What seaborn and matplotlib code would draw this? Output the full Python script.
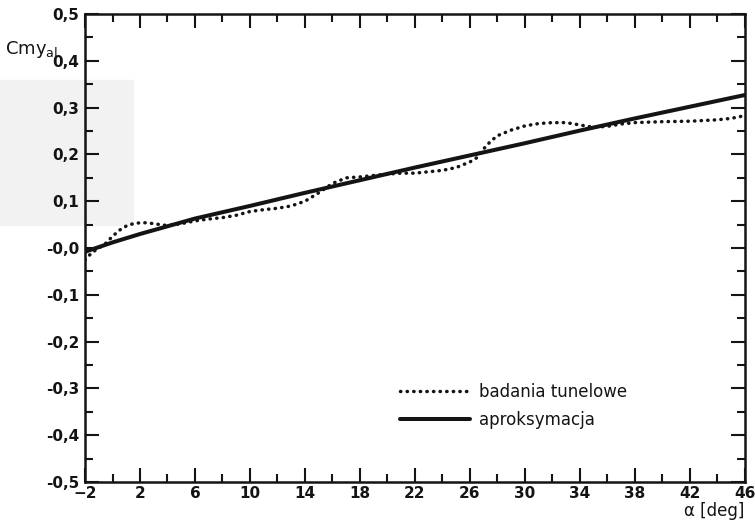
import numpy as np
import pandas as pd
import seaborn as sns
import matplotlib.pyplot as plt
from matplotlib.patches import Rectangle
from matplotlib.ticker import MultipleLocator, FixedLocator, FixedFormatter

# wind tunnel measurements (dotted)
alpha_tunnel = [-2, -1.5, -1, -0.5, 0, 0.5, 1, 1.5, 2, 2.5, 3, 3.5, 4, 5, 6, 7, 8, 9,
                10, 11, 12, 13, 14, 15, 16, 17, 18, 19, 20, 21, 22, 23, 24, 25, 26,
                26.5, 27, 27.5, 28, 29, 30, 31, 32, 33, 34, 35, 36, 37, 38, 40, 42,
                44, 45, 46]
cmy_tunnel = [-0.025, -0.01, 0.0, 0.01, 0.025, 0.038, 0.047, 0.052, 0.054, 0.054,
              0.052, 0.05, 0.048, 0.052, 0.058, 0.062, 0.065, 0.07, 0.078, 0.082,
              0.085, 0.09, 0.1, 0.118, 0.138, 0.15, 0.152, 0.155, 0.158, 0.16, 0.16,
              0.163, 0.166, 0.172, 0.184, 0.193, 0.212, 0.228, 0.24, 0.252, 0.261,
              0.266, 0.268, 0.268, 0.263, 0.258, 0.26, 0.265, 0.268, 0.27, 0.271,
              0.274, 0.277, 0.283]

# approximation (solid)
alpha_approx = [-2, 0, 2, 6, 10, 14, 18, 22, 26, 30, 34, 38, 42, 46]
cmy_approx = [-0.008, 0.012, 0.03, 0.063, 0.09, 0.118, 0.145, 0.172, 0.198, 0.224,
              0.251, 0.277, 0.302, 0.327]

x_ticks = [-2, 2, 6, 10, 14, 18, 22, 26, 30, 34, 38, 42, 46]
y_ticks = [0.5, 0.4, 0.3, 0.2, 0.1, 0.0, -0.1, -0.2, -0.3, -0.4, -0.5]
y_labels = ["0,5", "0,4", "0,3", "0,2", "0,1", "-0,0", "-0,1", "-0,2", "-0,3", "-0,4", "-0,5"]

sns.set_theme(style="ticks")
plt.rcParams['font.family'] = ['DejaVu Sans']

df_t = pd.DataFrame({"alpha": alpha_tunnel, "cmy": cmy_tunnel})
df_a = pd.DataFrame({"alpha": alpha_approx, "cmy": cmy_approx})

fig = plt.figure(figsize=(7.55, 5.2), dpi=100)
# faint scan shading at top-left, kept behind everything
shade = Rectangle((0, 1 - 225 / 520), 133 / 755, 145 / 520,
                  transform=fig.transFigure, color='#f2f2f2', zorder=-5)
fig.patches.append(shade)
ax = fig.add_axes([0.1126, 0.073, 0.874, 0.9])
ax.patch.set_alpha(0)

ink = '#141414'
sns.lineplot(data=df_t, x="alpha", y="cmy", ax=ax, color=ink, lw=2.5,
             linestyle=(0, (0.1, 1.8)), dash_capstyle='round',
             label="badania tunelowe")
sns.lineplot(data=df_a, x="alpha", y="cmy", ax=ax, color=ink, lw=2.9,
             label="aproksymacja")

ax.set_xlim(-2, 46)
ax.set_ylim(-0.5, 0.5)
ax.xaxis.set_major_locator(FixedLocator(x_ticks))
ax.xaxis.set_minor_locator(MultipleLocator(2))
ax.yaxis.set_major_locator(FixedLocator(y_ticks))
ax.yaxis.set_major_formatter(FixedFormatter(y_labels))
ax.yaxis.set_minor_locator(MultipleLocator(0.05))
ax.tick_params(which='both', direction='in', top=True, right=True, color=ink,
               width=1.5)
ax.tick_params(which='major', length=10, labelsize=11)
ax.tick_params(axis='x', which='major', pad=3)
ax.tick_params(axis='y', which='major', pad=4)
ax.tick_params(which='minor', length=6)
for lab in ax.get_xticklabels() + ax.get_yticklabels():
    lab.set_fontweight('bold')
    lab.set_color(ink)
for s in ax.spines.values():
    s.set_linewidth(1.8)
    s.set_color(ink)

ax.set_xlabel("")
ax.set_ylabel("")
fig.text(0.006, 0.905, r"Cmy$_{\mathregular{al}}$", fontsize=13, color=ink,
         ha='left', va='center')
fig.text(0.986, 0.0, "\u03b1 [deg]", fontsize=12, color=ink, ha='right',
         va='bottom')

leg = ax.legend(loc='lower left', bbox_to_anchor=(0.455, 0.082), frameon=False,
                handlelength=4.2, handletextpad=0.5, labelspacing=0.6,
                fontsize=12)
for t in leg.get_texts():
    t.set_color(ink)

fig.savefig("out.png", dpi=100)
